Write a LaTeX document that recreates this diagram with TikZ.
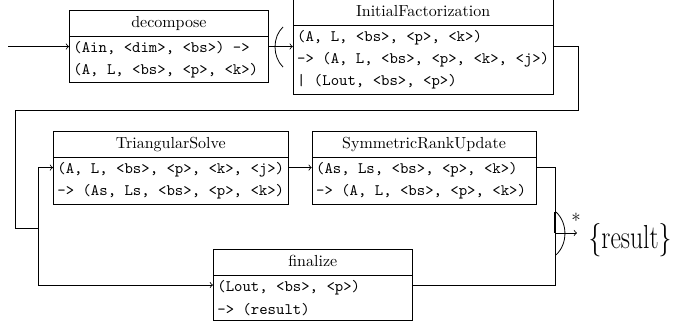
\documentclass[tikz,border=0pt]{standalone}
\usepackage{fontspec}
\usepackage{tikz}
\usetikzlibrary{shapes, arrows, positioning, shapes.multipart}

\newcommand{\titlestrut}{\rule[-2.6pt]{0pt}{10.2pt}}

\begin{document}
\begin{tikzpicture}[
    % Styles for the stages
    stage/.style={rectangle split, rectangle split parts=2, draw, line width=0.5pt,
        rectangle split part align={center,left}, align=left,
        minimum width=4.37cm, inner xsep=2.5pt, inner ysep=2.8pt,
        font=\fontsize{10}{13.9}\selectfont},
    % Styles for the connections
    flow/.style={->, line width=0.5pt},
    wire/.style={line width=0.5pt},
    % Styles for the text
    outtext/.style={inner sep=0pt, anchor=base west}
]
\useasboundingbox (0,0) rectangle (14.79,-7.078);

% === FIRST ROW ===
\node[stage, anchor=west] (decomp) at (1.517,-1.022) {\titlestrut decompose
    \nodepart{two}\ttfamily (Ain, <dim>, <bs>) ->\\\ttfamily (A, L, <bs>, <p>, <k>)};
\node[stage, right=0.53cm of decomp] (initfact) {\titlestrut InitialFactorization
    \nodepart{two}\ttfamily (A, L, <bs>, <p>, <k>)\\\ttfamily -> (A, L, <bs>, <p>, <k>, <j>)\\\ttfamily | (Lout, <bs>, <p>)};

% === SECOND ROW ===
\node[stage, anchor=west] (trisolve) at (1.165,-3.682) {\titlestrut TriangularSolve
    \nodepart{two}\ttfamily (A, L, <bs>, <p>, <k>, <j>)\\\ttfamily -> (As, Ls, <bs>, <p>, <k>)};
\node[stage, right=0.51cm of trisolve, minimum width=4.92cm] (rankupd) {\titlestrut SymmetricRankUpdate
    \nodepart{two}\ttfamily (As, Ls, <bs>, <p>, <k>)\\\ttfamily -> (A, L, <bs>, <p>, <k>)};

% === THIRD ROW ===
\node[stage, anchor=west] (final) at (4.68,-6.264) {\titlestrut finalize
    \nodepart{two}\ttfamily (Lout, <bs>, <p>)\\\ttfamily -> (result)};

% === HELPER POINTS ===
\coordinate (start) at (0.18,-1.022);
\coordinate (loopa) at (12.70,-2.418);
\coordinate (loopb) at (0.33,-5.011);
\coordinate (split) at (0.835,-5.011);
\coordinate (merge) at (12.20,-5.12);
\coordinate (outend) at (12.68,-5.12);

% === CONNECTIONS ===
\draw[flow] (start) -- (decomp);
\draw[flow] (decomp) -- (initfact);
\draw[wire] (initfact.east) -| (loopa) -| (loopb) -- (split);
\draw[flow] (split) |- (trisolve.west);
\draw[flow] (split) |- (final.west);
\draw[flow] (trisolve) -- (rankupd);
\draw[wire] (rankupd.east) -| (merge);
\draw[wire] (final.east) -| (merge);
\draw[flow] (merge) -- (outend);
\draw[line width=1.5pt] (merge) -- ++(0,0.46);

% === GROUP BRACKETS ===
\draw[wire] (6.22,-0.593) .. controls (5.985,-0.81) and (5.985,-1.25) .. (6.22,-1.473);
\draw[wire] (12.22,-4.66) .. controls (12.48,-4.90) and (12.48,-5.36) .. (12.22,-5.60);

% === RESULT ===
\node[inner sep=0pt, font=\fontsize{12}{14}\selectfont] (star) at (12.66,-4.84) {*};
\node[outtext] (result) at (12.93,-5.451) {\scalebox{1}[1.3]{\fontsize{16}{18}\selectfont\{result\}}};

\end{tikzpicture}
\end{document}
